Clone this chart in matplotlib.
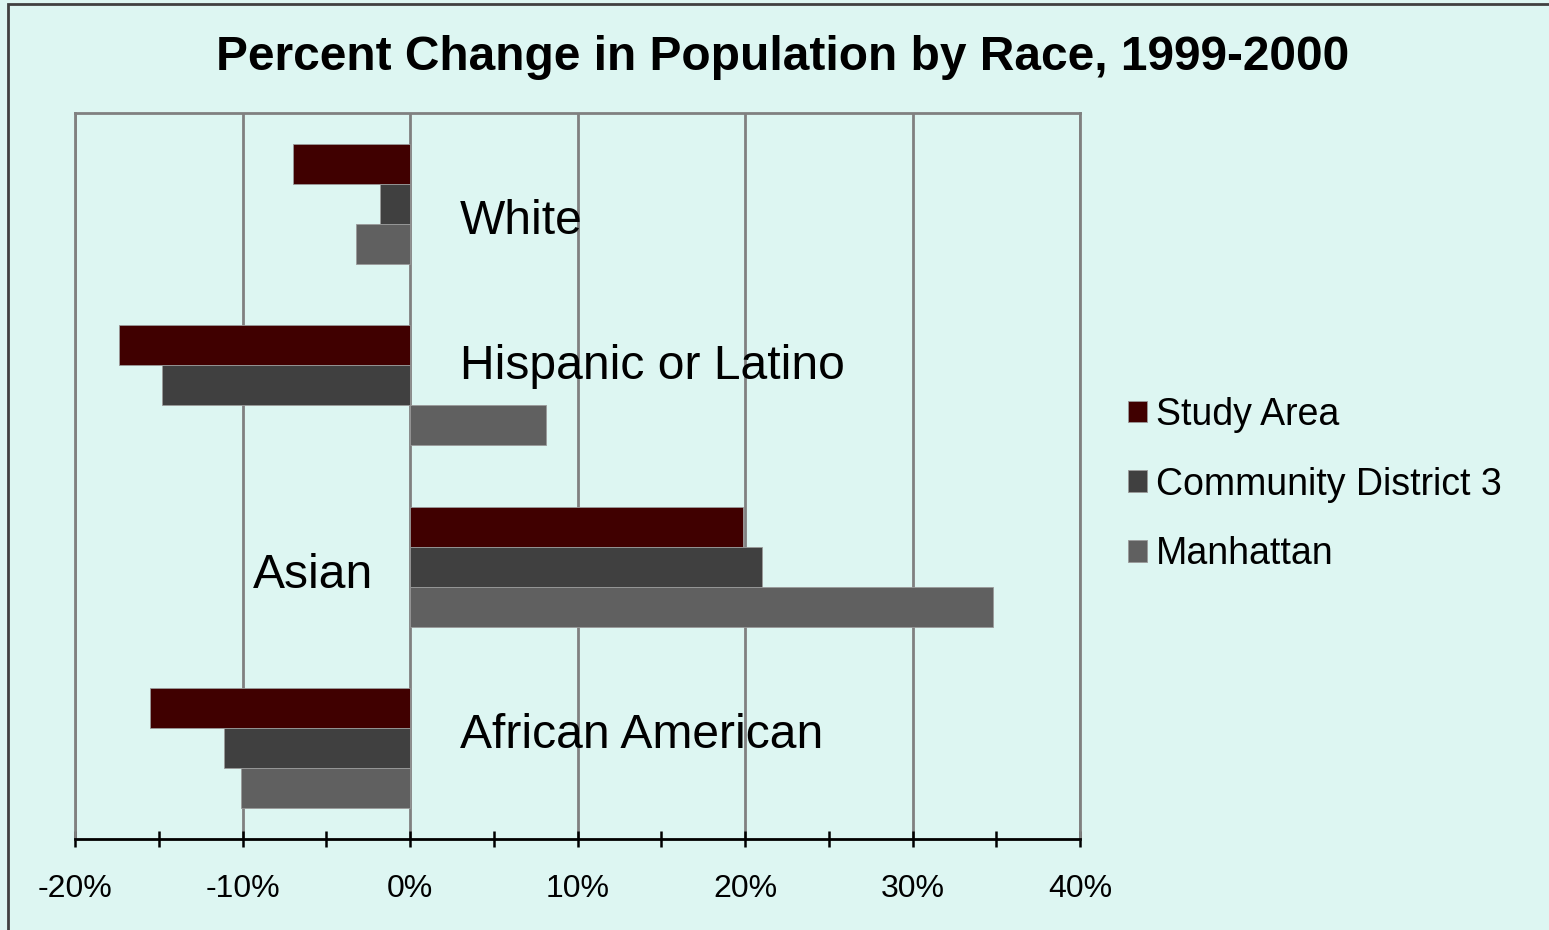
import matplotlib.pyplot as plt
from matplotlib.patches import Rectangle
from matplotlib.ticker import FuncFormatter, MultipleLocator
import numpy as np

plt.rcParams['font.family'] = ['Liberation Sans', 'DejaVu Sans']

categories = ["White", "Hispanic or Latino", "Asian", "African American"]
series = ["Study Area", "Community District 3", "Manhattan"]
study_area = [-7.0, -17.4, 19.9, -15.5]
cd3 = [-1.8, -14.8, 21.0, -11.1]
manhattan = [-3.2, 8.1, 34.8, -10.1]
colors = ["#400000", "#404040", "#606060"]
bg = "#ddf6f2"

W, H = 1549, 930
fig = plt.figure(figsize=(W / 100, H / 100), dpi=100, facecolor=bg)
ax = fig.add_axes([75 / W, 1 - 839 / H, (1080 - 75) / W, (839 - 113) / H])
ax.set_facecolor(bg)

# outer chart border (runs off right/bottom edge like the source)
fig.patches.append(Rectangle((8 / W, -0.05), 1.2, 1 - 4.5 / H + 0.05,
                             transform=fig.transFigure, fill=False,
                             edgecolor="#404040", linewidth=2, zorder=10))

y = np.arange(len(categories))
h = 0.22
for i, (vals, name) in enumerate(zip([study_area, cd3, manhattan], series)):
    ax.barh(y + (i - 1) * h, vals, height=h, color=colors[i], label=name,
            edgecolor="#9a9a9a", linewidth=0.6, zorder=3)

ax.set_xlim(-20, 40)
ax.set_ylim(3.5, -0.5)
ax.set_yticks([])
ax.xaxis.set_major_locator(MultipleLocator(10))
ax.xaxis.set_minor_locator(MultipleLocator(5))
ax.xaxis.set_major_formatter(FuncFormatter(lambda v, p: f"{v:.0f}%"))
ax.grid(axis="x", which="major", color="#808080", linewidth=2, zorder=1)
ax.tick_params(axis="x", which="major", direction="inout", length=12,
               width=1.8, labelsize=23, pad=19, color="black")
ax.tick_params(axis="x", which="minor", direction="inout", length=11,
               width=1.8, color="black")

for side in ["left", "top", "right"]:
    ax.spines[side].set_color("#808080")
    ax.spines[side].set_linewidth(2)
ax.spines["bottom"].set_color("black")
ax.spines["bottom"].set_linewidth(2)
ax.spines["bottom"].set_zorder(5)

# category labels sit inside the plot next to the zero line
label_x = [3, 3, -2.2, 3]
label_dy = [0.168, -0.032, 0.115, -0.002]
for i, cat in enumerate(categories):
    ha = "left" if label_x[i] > 0 else "right"
    ax.text(label_x[i], i + label_dy[i], cat, fontsize=34.6, ha=ha,
            va="baseline", zorder=4)

fig.text(782.5 / W, 1 - 57 / H, "Percent Change in Population by Race, 1999-2000",
         fontsize=34.5, fontweight="bold", ha="center", va="center")

leg = ax.legend(loc="center left", bbox_to_anchor=(1128 / W, 1 - 484.5 / H),
                bbox_transform=fig.transFigure, frameon=False, fontsize=27,
                handlelength=0.5, handleheight=0.5, handletextpad=0.24,
                labelspacing=0.9, borderaxespad=0, borderpad=0)

fig.savefig("out.png", dpi=100, facecolor=bg)
